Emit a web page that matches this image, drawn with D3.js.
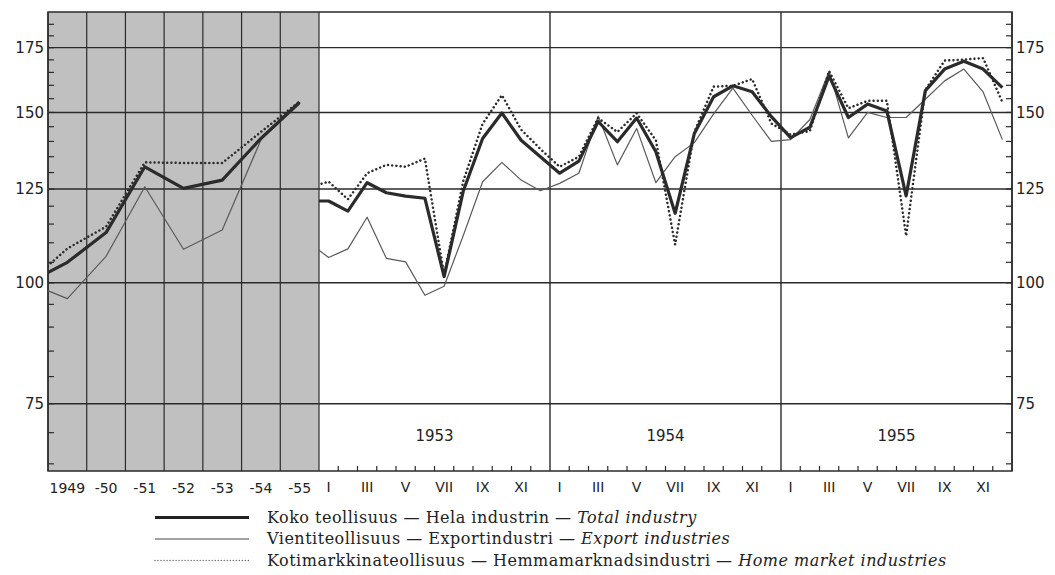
<!DOCTYPE html>
<html><head><meta charset="utf-8">
<script src="https://cdn.jsdelivr.net/npm/d3@7"></script>
<style>
html,body{margin:0;padding:0;background:#fff;}
svg{display:block;}
</style></head>
<body>
<svg id="c" width="1055" height="575"></svg>
<script>
// ---------- DATA ----------
// Annual index (1948 = 100), left shaded panel
const annualYears = [1948, 1949, 1950, 1951, 1952, 1953, 1954, 1955];
const annualLabels = ["1949", "-50", "-51", "-52", "-53", "-54", "-55"];
const annualTotal  = [100, 105.0, 112.7, 131.8, 125.2, 127.7, 141.0, 153.7];
const annualExport = [100, 96.3, 106.5, 125.7, 108.3, 113.4, 140.5, 153.0];
const annualHome   = [100, 108.5, 114.3, 133.2, 133.0, 133.0, 143.2, 154.0];

// Monthly index, Dec 1952 followed by Jan 1953 ... Dec 1955
const panelYears = ["1953", "1954", "1955"];
const monthLabels = ["I", "", "III", "", "V", "", "VII", "", "IX", "", "XI", ""];
const monthlyTotal = [121.5,
  121.5, 118.6, 126.9, 123.9, 122.9, 122.3, 101.5, 124.5, 141.0, 149.8, 140.4, 135.0,
  129.8, 133.6, 146.8, 139.9, 148.0, 136.6, 118.0, 142.7, 155.7, 159.8, 157.6, 148.5,
  141.3, 144.8, 163.6, 148.2, 153.0, 150.5, 123.0, 158.0, 166.3, 169.4, 166.3, 159.1];
const monthlyExport = [110.0,
  106.2, 108.4, 116.9, 106.0, 105.1, 97.1, 99.2, 112.0, 127.2, 133.2, 127.7, 124.5,
  126.7, 129.8, 148.7, 132.4, 144.4, 126.9, 135.0, 139.6, 149.5, 158.9, 149.0, 140.0,
  140.6, 147.5, 165.5, 141.2, 150.0, 148.2, 148.2, 154.8, 161.7, 166.3, 157.5, 140.6];
const monthlyHome = [125.6,
  127.2, 122.0, 129.8, 132.4, 131.8, 134.4, 101.9, 127.5, 146.0, 156.3, 144.0, 137.5,
  131.8, 135.0, 148.0, 143.2, 149.7, 140.4, 109.5, 143.2, 159.5, 159.8, 162.4, 146.1,
  142.3, 143.5, 165.5, 151.5, 154.2, 154.2, 111.8, 158.3, 169.7, 170.1, 170.7, 153.7];

const gridValues = [75, 100, 125, 150, 175];
const minorTicks = d3.range(65, 190, 5);

const legendItems = [
  {fi: "Koko teollisuus — Hela industrin — ", en: "Total industry", key: "total"},
  {fi: "Vientiteollisuus — Exportindustri — ", en: "Export industries", key: "export"},
  {fi: "Kotimarkkinateollisuus — Hemmamarknadsindustri — ", en: "Home market industries", key: "home"}
];

// ---------- LAYOUT ----------
const X0 = 48, XS = 319, X1 = 1012, YT = 12, YB = 471;
const ink = "#2a2a2a";
const styles = {
  total:  {stroke: "#2b2b2b", width: 3.2, dash: null},
  export: {stroke: "#5a5a5a", width: 1.2, dash: null},
  home:   {stroke: "#2b2b2b", width: 2.5, dash: "0.01 4.2"}
};

const svg = d3.select("#c");
const y = d3.scaleLog().domain([63.9, 190.5]).range([YB, YT]);
const xA = d3.scaleLinear().domain([1948.5, 1955.5]).range([X0, XS]);
const xM = d3.scaleLinear().domain([0, 36]).range([XS, X1]);

const defs = svg.append("defs");
defs.append("clipPath").attr("id", "clipA").append("rect")
  .attr("x", X0).attr("y", YT).attr("width", XS - X0).attr("height", YB - YT);
defs.append("clipPath").attr("id", "clipM").append("rect")
  .attr("x", XS).attr("y", YT).attr("width", X1 - XS).attr("height", YB - YT);

// shaded annual panel
svg.append("rect").attr("x", X0).attr("y", YT).attr("width", XS - X0).attr("height", YB - YT)
  .attr("fill", "#c0c0c0");

// horizontal grid
svg.append("g").selectAll("line").data(gridValues).join("line")
  .attr("x1", X0).attr("x2", X1).attr("y1", d => y(d)).attr("y2", d => y(d))
  .attr("stroke", ink).attr("stroke-width", 1.4);

// vertical year lines in annual panel
svg.append("g").selectAll("line").data(d3.range(1948.5, 1956.5, 1)).join("line")
  .attr("x1", d => xA(d)).attr("x2", d => xA(d)).attr("y1", YT).attr("y2", YB)
  .attr("stroke", ink).attr("stroke-width", 1.2);

// vertical year dividers in monthly panel
svg.append("g").selectAll("line").data([12, 24, 36]).join("line")
  .attr("x1", d => xM(d)).attr("x2", d => xM(d)).attr("y1", YT).attr("y2", YB)
  .attr("stroke", ink).attr("stroke-width", 1.4);

// frame
svg.append("rect").attr("x", X0).attr("y", YT).attr("width", X1 - X0).attr("height", YB - YT)
  .attr("fill", "none").attr("stroke", ink).attr("stroke-width", 1.5);

// y minor ticks (left: pointing right; right: pointing left)
svg.append("g").selectAll("line").data(minorTicks).join("line")
  .attr("x1", X0).attr("x2", X0 + 6).attr("y1", d => y(d)).attr("y2", d => y(d))
  .attr("stroke", ink).attr("stroke-width", 1.2);
svg.append("g").selectAll("line").data(minorTicks).join("line")
  .attr("x1", X1 - 6).attr("x2", X1).attr("y1", d => y(d)).attr("y2", d => y(d))
  .attr("stroke", ink).attr("stroke-width", 1.2);

// month ticks at the bottom
svg.append("g").selectAll("line").data(d3.range(1, 36).filter(d => d % 12 !== 0)).join("line")
  .attr("x1", d => xM(d)).attr("x2", d => xM(d)).attr("y1", YB - 5).attr("y2", YB)
  .attr("stroke", ink).attr("stroke-width", 1.2);

// y labels
const labFont = "'DejaVu Sans', sans-serif";
svg.append("g").selectAll("text").data(gridValues).join("text")
  .attr("x", 44).attr("y", d => y(d)).attr("dy", "0.36em").attr("text-anchor", "end")
  .attr("font-family", labFont).attr("font-size", 15).attr("fill", "#222").text(d => d);
svg.append("g").selectAll("text").data(gridValues).join("text")
  .attr("x", 1016).attr("y", d => y(d)).attr("dy", "0.36em").attr("text-anchor", "start")
  .attr("font-family", labFont).attr("font-size", 15).attr("fill", "#222").text(d => d);

// annual labels
svg.append("g").selectAll("text").data(annualLabels).join("text")
  .attr("x", (d, i) => xA(annualYears[i + 1])).attr("y", 493).attr("text-anchor", "middle")
  .attr("font-family", labFont).attr("font-size", 14).attr("fill", "#222").text(d => d);

// month labels
const mlab = [];
panelYears.forEach((py, k) => monthLabels.forEach((m, j) => { if (m) mlab.push({m, i: k * 12 + j}); }));
svg.append("g").selectAll("text").data(mlab).join("text")
  .attr("x", d => xM(d.i + 0.5)).attr("y", 492).attr("text-anchor", "middle")
  .attr("font-family", labFont).attr("font-size", 14).attr("fill", "#222").text(d => d.m);

// panel year labels
svg.append("g").selectAll("text").data(panelYears).join("text")
  .attr("x", (d, k) => xM(k * 12 + 6)).attr("y", 441).attr("text-anchor", "middle")
  .attr("font-family", labFont).attr("font-size", 15).attr("fill", "#222").text(d => d);

// ---------- LINES ----------
function drawLine(data, xf, clip, st) {
  const p = svg.append("path").datum(data)
    .attr("clip-path", clip)
    .attr("fill", "none").attr("stroke", st.stroke).attr("stroke-width", st.width)
    .attr("stroke-linejoin", "round")
    .attr("d", d3.line().x(d => xf(d[0])).y(d => y(d[1])));
  if (st.dash) p.attr("stroke-dasharray", st.dash).attr("stroke-linecap", "round");
}
const annSeries = {total: annualTotal, export: annualExport, home: annualHome};
const monSeries = {total: monthlyTotal, export: monthlyExport, home: monthlyHome};
const monthPos = d3.range(-1, 36).map(i => i + 0.5);
["export", "home", "total"].forEach(k => {
  drawLine(annualYears.map((yr, i) => [yr, annSeries[k][i]]), xA, "url(#clipA)", styles[k]);
  drawLine(monthPos.map((p, i) => [p, monSeries[k][i]]), xM, "url(#clipM)", styles[k]);
});

// ---------- LEGEND ----------
const lg = svg.append("g");
legendItems.forEach((it, i) => {
  const yy = 517.5 + i * 21.5;
  const st = it.key === "total" ? {w: 3, dash: null, c: "#222", cap: "butt"}
           : it.key === "export" ? {w: 1, dash: null, c: "#444", cap: "butt"}
           : {w: 1.3, dash: "0.01 3", c: "#555", cap: "round"};
  const l = lg.append("line").attr("x1", 155).attr("x2", 249).attr("y1", yy).attr("y2", yy)
    .attr("stroke", st.c).attr("stroke-width", st.w).attr("stroke-linecap", st.cap);
  if (st.dash) l.attr("stroke-dasharray", st.dash);
  const t = lg.append("text").attr("x", 267).attr("y", yy + 5)
    .attr("font-family", "'DejaVu Serif', serif").attr("font-size", 16)
    .attr("letter-spacing", 0.5).attr("fill", "#222");
  t.append("tspan").text(it.fi);
  t.append("tspan").attr("font-style", "italic").text(it.en);
});
</script>
</body></html>
